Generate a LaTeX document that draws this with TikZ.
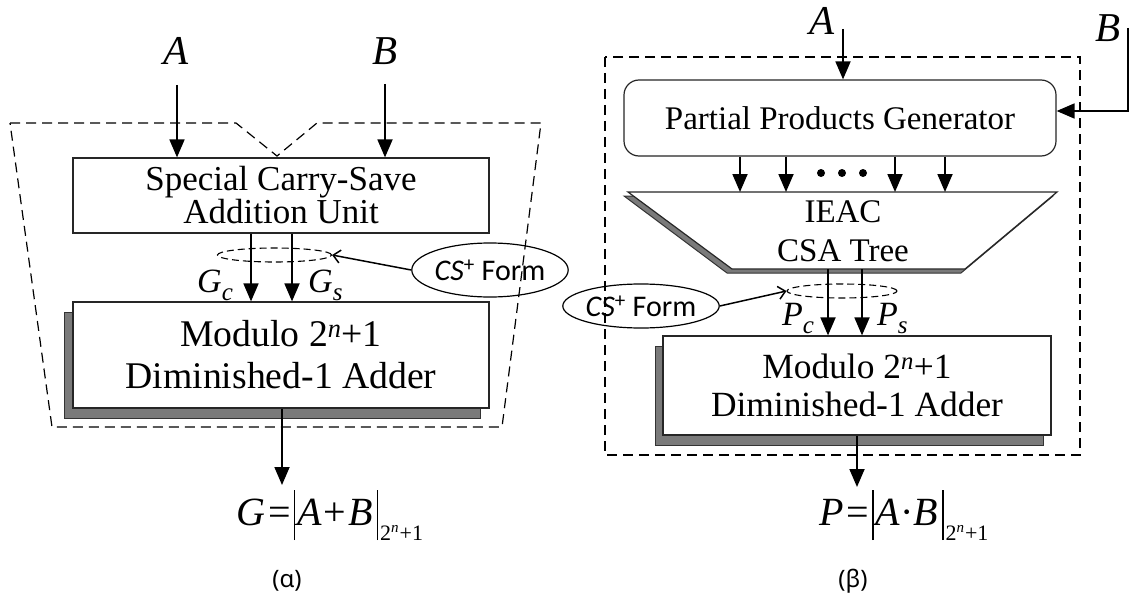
\documentclass[tikz,border=0pt]{standalone}
\usepackage{fontspec}
\setmainfont{Liberation Serif}
\newfontfamily\calib{Carlito}
\newfontfamily\capsans{Noto Sans}
\usetikzlibrary{arrows.meta,shapes.geometric}
\newcommand\fs[1]{\fontsize{#1}{#1}\selectfont}
\newcommand\modbar{\rule[-15pt]{1.5pt}{50pt}}
\newcommand\modsub{\raisebox{-15pt}{\fs{22}2\raisebox{8pt}{\fs{15}\itshape n}\kern1pt+1}}

\begin{document}
\begin{tikzpicture}[x=1pt,y=-1pt,
  box/.style={draw=black!85,line width=1.2pt,fill=white,inner sep=0pt},
  shade/.style={draw=black!80,line width=1pt,fill=black!52},
  arr/.style={line width=1.8pt,-{Triangle[length=18pt,width=15pt]}},
  outline/.style={line width=1.2pt,dash pattern=on 10pt off 6pt},
  bundle/.style={draw,line width=1.1pt,dash pattern=on 7pt off 4pt,ellipse,inner sep=0pt},
  note/.style={draw,line width=1.2pt,ellipse,inner sep=0pt,font=\calib\fs{30}},
  pointer/.style={line width=1.5pt,-{Straight Barb[length=7pt,width=13pt]}},
  sym/.style={inner sep=0pt,anchor=base,font=\fs{41}\itshape},
  sub/.style={inner sep=0pt,anchor=base west,font=\fs{34}\itshape},
  caption/.style={inner sep=0pt,font=\capsans\fs{24}},
]
\useasboundingbox (0,0) rectangle (1129,599);

% ---------------- (alpha): modulo 2^n+1 adder ----------------
\draw[outline] (10,123) -- (236,123) -- (277,156) -- (317,123) -- (541,123)
  -- (502,427) -- (52,427) -- cycle;

\node[sym] (inA) at (176,65) {A};
\node[sym] (inB) at (385,65) {B};
\coordinate (aA) at (177,85);
\coordinate (aB) at (385,84);

\node[box,minimum width=416pt,minimum height=75pt,
      font=\fontsize{35}{33}\selectfont,align=center] (scsa) at (281,195.5)
  {Special Carry-Save\\Addition Unit};

\draw[shade] (64,312) rectangle (480,418);
\node[box,minimum width=416pt,minimum height=106pt,
      font=\fontsize{37.7}{42}\selectfont,align=center] (modL) at (281,355)
  {Modulo 2\textsuperscript{\itshape n}+1\\Diminished-1 Adder};

\draw[arr] (aA) -- (aA |- scsa.north);
\draw[arr] (aB) -- (aB |- scsa.north);

\coordinate (xc) at (251,0);
\coordinate (xs) at (292,0);
\draw[arr] (scsa.south -| xc) -- (modL.north -| xc);
\draw[arr] (scsa.south -| xs) -- (modL.north -| xs);
\node[bundle,minimum width=114pt,minimum height=14pt] (bunL) at (274.5,255) {};
\node[sub] (gc) at (197,292) {G\raisebox{-8pt}{\fs{25}c}};
\node[sub] (gs) at (308,292) {G\raisebox{-8pt}{\fs{25}s}};

\node[note,minimum width=138pt,minimum height=54pt] (csL) at (490,270)
  {\textit{CS}\textsuperscript{+} Form};
\draw[pointer] (csL.west) -- (bunL.east);

\node[inner sep=0pt,anchor=base west] (sumG) at (236,525)
  {\fs{40}\textit{G}\kern3pt=\kern3pt\modbar\kern2pt\textit{A}\kern2pt+\kern2pt\textit{B}\kern4pt\modbar\kern2pt\modsub};
\coordinate (gTip) at (282,485);
\draw[arr] (modL.south -| gTip) -- (gTip);

\node[caption] (capA) at (287,581) {(α)};

% ---------------- (beta): modulo 2^n+1 multiplier ----------------
\draw[outline] (605,57) rectangle (1080,455);

\node[sym] (inA2) at (822,35) {A};
\node[sym] (inB2) at (1108,42) {B};
\coordinate (aA2) at (843,29);
\coordinate (aB2) at (1128,28);

\node[box,rounded corners=15pt,minimum width=432pt,minimum height=76pt,
      font=\fs{33}] (ppg) at (840,118) {Partial Products Generator};
\draw[arr] (aA2) -- (aA2 |- ppg.north);
\draw[arr] (aB2) |- ([yshift=7pt]ppg.east);

% CSA tree (trapezoid with its shadow)
\draw[shade] (624,196) -- (1053,196) -- (961,273) -- (727,273) -- cycle;
\draw[box] (628,192) -- (1057,192) -- (965,269) -- (732,269) -- cycle;
\coordinate (tTop) at (843,192);
\coordinate (tBot) at (843,269);
\node[inner sep=0pt,font=\fontsize{33}{39}\selectfont,align=center] (csa) at (843,231.5)
  {IEAC\\CSA Tree};

\foreach \x/\n in {740/1,786/2,895/3,945/4}{
  \coordinate (pp\n) at (\x,0);
  \draw[arr] (ppg.south -| pp\n) -- (tTop -| pp\n);
}
\foreach \x in {821,842,863} \fill (\x,173) circle[radius=4pt];

\draw[shade] (655,346) rectangle (1043,445);
\node[box,minimum width=388pt,minimum height=99pt,
      font=\fontsize{35.4}{38}\selectfont,align=center] (modR) at (857,385.5)
  {Modulo 2\textsuperscript{\itshape n}+1\\Diminished-1 Adder};

\coordinate (xpc) at (828,0);
\coordinate (xps) at (862,0);
\draw[arr] (tBot -| xpc) -- (modR.north -| xpc);
\draw[arr] (tBot -| xps) -- (modR.north -| xps);
\node[bundle,minimum width=110pt,minimum height=14pt] (bunR) at (842,291) {};
\node[sub] (pc) at (782,325) {P\raisebox{-8pt}{\fs{25}c}};
\node[sub] (ps) at (877,325) {P\raisebox{-8pt}{\fs{25}s}};

\node[note,minimum width=132pt,minimum height=44pt] (csR) at (641,306)
  {\textit{CS}\textsuperscript{+} Form};
\draw[pointer] (csR.east) -- (bunR.west);

\node[inner sep=0pt,anchor=base west] (prodP) at (819,525)
  {\fs{40}\textit{P}\kern3pt=\kern3pt\modbar\kern2pt\textit{A}·\textit{B}\kern4pt\modbar\kern2pt\modsub};
\coordinate (pTip) at (857,487);
\draw[arr] (modR.south -| pTip) -- (pTip);

\node[caption] (capB) at (853,581) {(β)};
\end{tikzpicture}
\end{document}
